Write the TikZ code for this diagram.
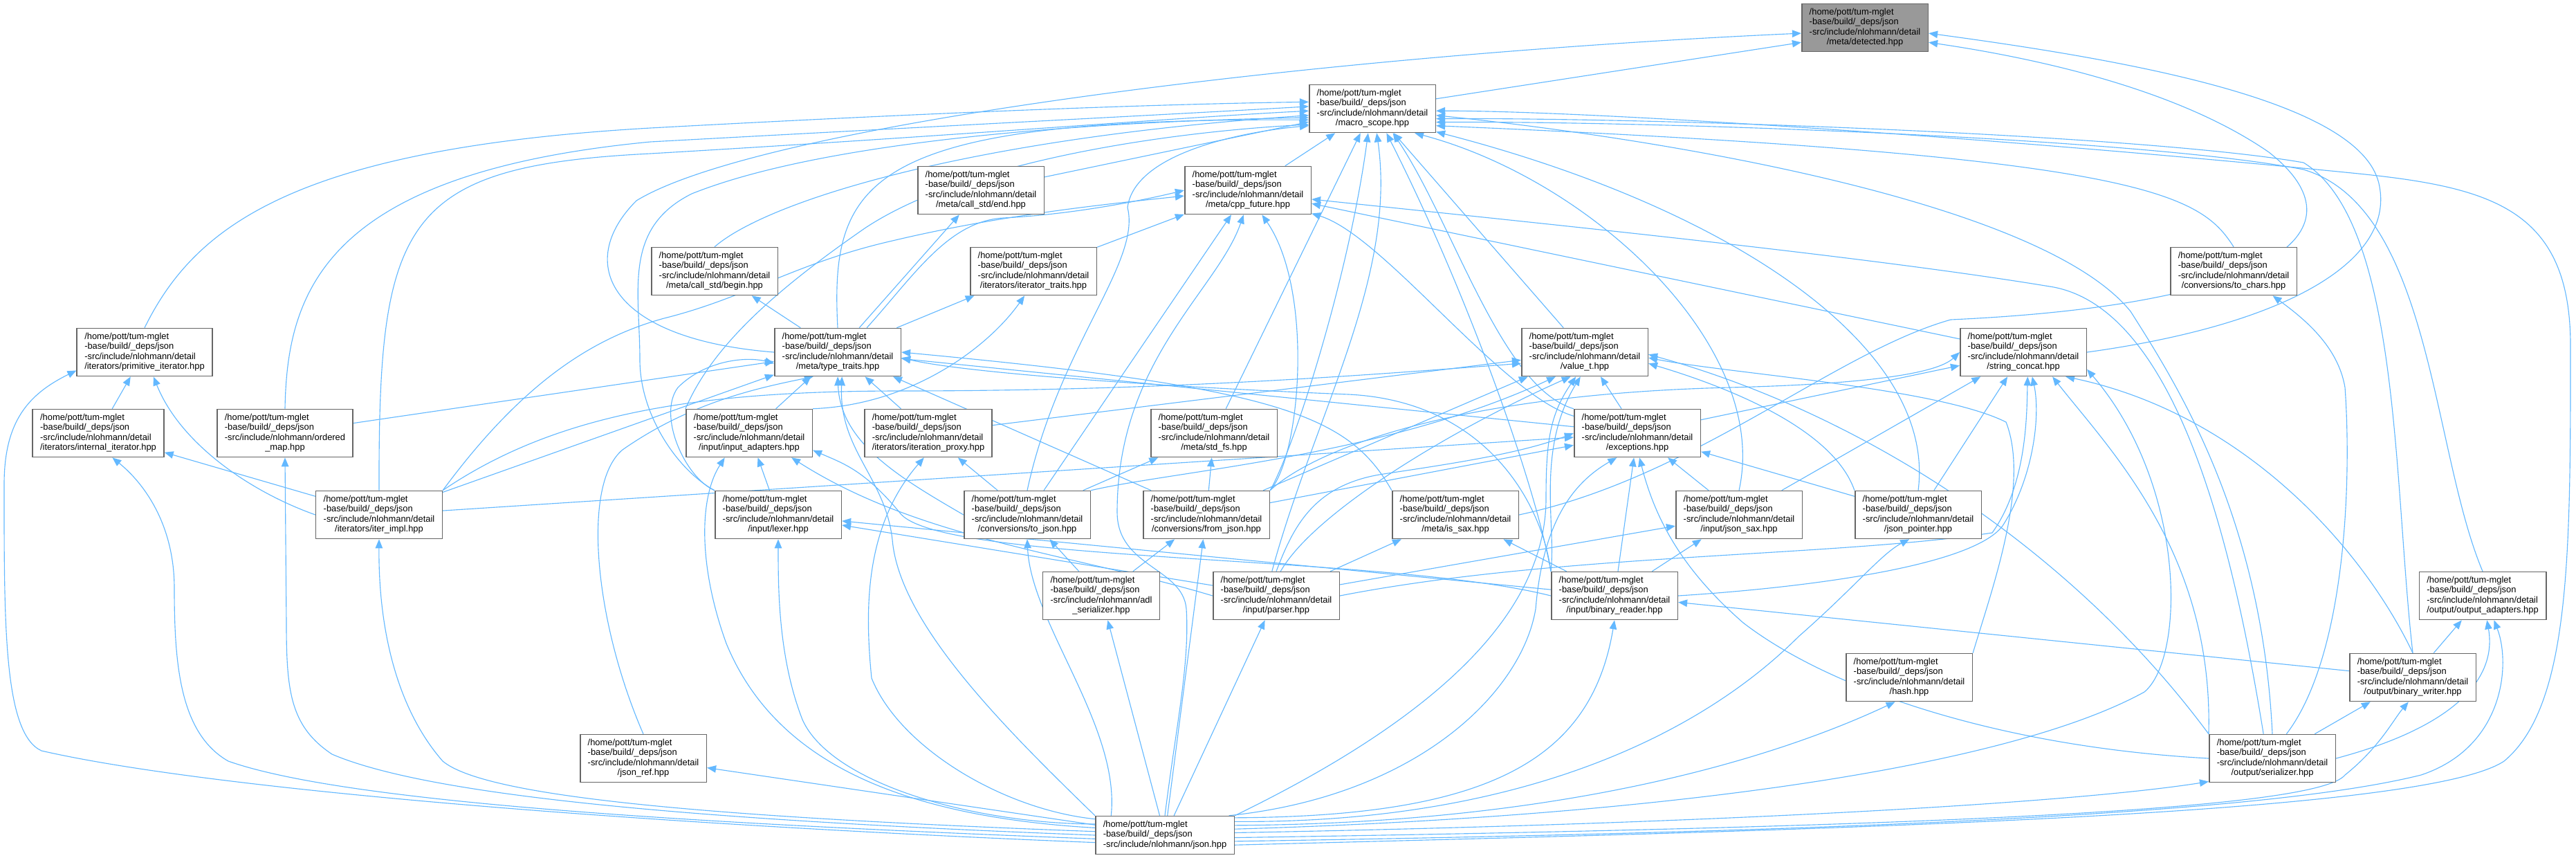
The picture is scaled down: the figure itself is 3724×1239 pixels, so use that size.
\documentclass[tikz,border=0pt]{standalone}
\usepackage{fontspec}
\setmainfont{Liberation Sans}
\usepackage{tikz}
\usetikzlibrary{arrows.meta}
\definecolor{edgeblue}{HTML}{63B8FF}
\definecolor{boxgray}{HTML}{666666}
\definecolor{curgray}{HTML}{999999}
\pgfdeclarelayer{bg}
\pgfsetlayers{bg,main}
\newcommand{\hpp}[2]{\begin{tabular}{@{}l@{}}/home/pott/tum-mglet\\-base/build/\_deps/json\\#1\\\multicolumn{1}{@{}c@{}}{#2}\end{tabular}}
\newcommand{\dhpp}[1]{\hpp{-src/include/nlohmann/detail}{#1}}

\begin{document}
\begin{tikzpicture}[x=0.1mm,y=-0.1mm,
  file/.style={draw=boxgray,fill=white,line width=0.45pt,inner xsep=1.1mm,inner ysep=0.3mm,
    minimum height=6.9mm,font=\fontsize{3.67}{4.15}\selectfont},
  cur/.style={file,fill=curgray},
  dep/.style={edgeblue,line width=0.32pt,-{Triangle[length=1.3mm,width=1.05mm]}}]
\useasboundingbox (0,0) rectangle (3724,1239);
\node[cur]  (det)      at (2696,40)   {\dhpp{/meta/detected.hpp}};
\node[file] (macro)    at (1984,157)  {\dhpp{/macro\_scope.hpp}};
\node[file] (cend)     at (1418,275)  {\dhpp{/meta/call\_std/end.hpp}};
\node[file] (cppf)     at (1804,275)  {\dhpp{/meta/cpp\_future.hpp}};
\node[file] (cbegin)   at (1033,392)  {\dhpp{/meta/call\_std/begin.hpp}};
\node[file] (ittr)     at (1494,392)  {\dhpp{/iterators/iterator\_traits.hpp}};
\node[file] (tochars)  at (3229,392)  {\dhpp{/conversions/to\_chars.hpp}};
\node[file] (primit)   at (209,509)   {\dhpp{/iterators/primitive\_iterator.hpp}};
\node[file] (ttraits)  at (1211,509)  {\dhpp{/meta/type\_traits.hpp}};
\node[file] (valuet)   at (2291,509)  {\dhpp{/value\_t.hpp}};
\node[file] (strcat)   at (2925,509)  {\dhpp{/string\_concat.hpp}};
\node[file] (intit)    at (142,626)   {\dhpp{/iterators/internal\_iterator.hpp}};
\node[file] (omap)     at (412,626)   {\hpp{-src/include/nlohmann/ordered}{\_map.hpp}};
\node[file] (inadp)    at (1083,626)  {\dhpp{/input/input\_adapters.hpp}};
\node[file] (itproxy)  at (1342,626)  {\dhpp{/iterators/iteration\_proxy.hpp}};
\node[file] (stdfs)    at (1755,626)  {\dhpp{/meta/std\_fs.hpp}};
\node[file] (excep)    at (2367,626)  {\dhpp{/exceptions.hpp}};
\node[file] (iterimpl) at (548,744)   {\dhpp{/iterators/iter\_impl.hpp}};
\node[file] (lexer)    at (1125,744)  {\dhpp{/input/lexer.hpp}};
\node[file] (tojson)   at (1485,744)  {\dhpp{/conversions/to\_json.hpp}};
\node[file] (fromjson) at (1744,744)  {\dhpp{/conversions/from\_json.hpp}};
\node[file] (issax)    at (2104,744)  {\dhpp{/meta/is\_sax.hpp}};
\node[file] (jsonsax)  at (2514,744)  {\dhpp{/input/json\_sax.hpp}};
\node[file] (jptr)     at (2773,744)  {\dhpp{/json\_pointer.hpp}};
\node[file] (adl)      at (1592,861)  {\hpp{-src/include/nlohmann/adl}{\_serializer.hpp}};
\node[file] (parser)   at (1845,861)  {\dhpp{/input/parser.hpp}};
\node[file] (breader)  at (2334,861)  {\dhpp{/input/binary\_reader.hpp}};
\node[file] (outadp)   at (3589,861)  {\dhpp{/output/output\_adapters.hpp}};
\node[file] (hash)     at (2760,979)  {\dhpp{/hash.hpp}};
\node[file] (bwriter)  at (3488,979)  {\dhpp{/output/binary\_writer.hpp}};
\node[file] (jref)     at (930,1096)  {\dhpp{/json\_ref.hpp}};
\node[file] (serial)   at (3285,1096) {\dhpp{/output/serializer.hpp}};
\node[file,minimum height=5.5mm] (json) at (1684,1207)
  {\begin{tabular}{@{}l@{}}/home/pott/tum-mglet\\-base/build/\_deps/json\\-src/include/nlohmann/json.hpp\end{tabular}};

\begin{pgfonlayer}{bg}
% detected.hpp
\draw[dep] (macro) -- (det.193);
\draw[dep] (ttraits.west) .. controls (880,490) and (830,380) .. (920,290) .. controls (1100,180) and (1900,80) .. (det.185);
\draw[dep] (strcat.east) .. controls (3300,470) and (3460,380) .. (3440,270) .. controls (3420,150) and (3100,90) .. (det.-5);
\draw[dep] (issax.east) .. controls (2450,690) and (2650,510) .. (2820,462) .. controls (3300,440) and (3420,330) .. (3280,220) .. controls (3150,130) and (2950,85) .. (det.-13);
% macro_scope.hpp
\draw[dep] (cppf) -- (macro);
\draw[dep] (cend) -- (macro);
\draw[dep] (stdfs) -- (macro);
\draw[dep] (valuet) -- (macro);
\draw[dep] (cbegin.north) .. controls (1110,290) and (1400,200) .. (macro.186);
\draw[dep] (ttraits.north) .. controls (1200,260) and (1250,170) .. (macro.190);
\draw[dep] (primit.north) .. controls (280,330) and (420,215) .. (940,185) .. controls (1400,160) and (1700,150) .. (macro.174);
\draw[dep] (omap.north) .. controls (415,420) and (470,250) .. (940,205) .. controls (1400,180) and (1700,165) .. (macro.178);
\draw[dep] (iterimpl.north) .. controls (547,320) and (580,240) .. (940,222) .. controls (1400,195) and (1700,170) .. (macro.182);
\draw[dep] (inadp.north west) .. controls (1030,500) and (1120,420) .. (1250,330) .. controls (1400,230) and (1700,190) .. (macro.194);
\draw[dep] (lexer.north west) .. controls (980,680) and (925,600) .. (925,520) .. controls (925,420) and (900,330) .. (1000,280) .. controls (1200,200) and (1600,175) .. (macro.188);
\draw[dep] (tojson.north) .. controls (1530,500) and (1650,380) .. (1630,300) .. controls (1640,220) and (1800,190) .. (macro.195);
\draw[dep] (fromjson.north east) .. controls (1870,650) and (1950,400) .. (macro.-100);
\draw[dep] (parser.100) .. controls (1900,600) and (2020,400) .. (macro.-80);
\draw[dep] (breader.north west) .. controls (2220,700) and (2120,420) .. (macro.-60);
\draw[dep] (excep.north west) .. controls (2170,560) and (2100,320) .. (macro.-50);
\draw[dep] (jsonsax.north) .. controls (2560,500) and (2300,260) .. (macro.-30);
\draw[dep] (jptr.north) .. controls (2800,500) and (2500,300) .. (macro.-20);
\draw[dep] (tochars.north) .. controls (3180,280) and (3100,225) .. (macro.-15);
\draw[dep] (outadp.north) .. controls (3515,650) and (3515,300) .. (3330,245) .. controls (3100,200) and (2400,175) .. (macro.-12);
\draw[dep] (bwriter.north) .. controls (3460,700) and (3470,320) .. (3330,235) .. controls (3100,195) and (2400,170) .. (macro.-9);
\draw[dep] (serial.north) .. controls (3270,750) and (3150,560) .. (3080,450) .. controls (2950,290) and (2400,200) .. (macro.-6);
\draw[dep] (json.-8) .. controls (2600,1200) and (3500,1180) .. (3620,1100) .. controls (3716,1020) and (3716,800) .. (3716,500) .. controls (3716,300) and (3600,270) .. (3400,250) .. controls (2900,200) and (2300,160) .. (macro.-2);
% cpp_future.hpp
\draw[dep] (ittr) -- (cppf);
\draw[dep] (tojson) -- (cppf);
\draw[dep] (strcat) -- (cppf);
\draw[dep] (ttraits.40) .. controls (1320,400) and (1370,320) .. (1450,315) .. controls (1550,310) and (1650,290) .. (cppf.west);
\draw[dep] (iterimpl.north east) .. controls (750,560) and (850,490) .. (960,460) .. controls (1080,430) and (1150,380) .. (1290,348) .. controls (1450,310) and (1600,295) .. (cppf.185);
\draw[dep] (excep.165) .. controls (2170,570) and (2000,340) .. (cppf.-20);
\draw[dep] (fromjson.north east) .. controls (1880,660) and (1900,420) .. (cppf.-60);
\draw[dep] (serial.110) .. controls (3230,800) and (3150,450) .. (2969,415) .. controls (2700,370) and (2200,320) .. (cppf.-8);
\draw[dep] (json.north) .. controls (1700,1050) and (1720,960) .. (1715,880) .. controls (1710,820) and (1615,820) .. (1615,740) .. controls (1615,520) and (1760,420) .. (cppf.-100);
% call_std, iterator_traits
\draw[dep] (ttraits) -- (cbegin);
\draw[dep] (ttraits) -- (cend);
\draw[dep] (ttraits) -- (ittr);
\draw[dep] (inadp.north east) .. controls (1320,585) and (1430,500) .. (ittr.-110);
% primitive_iterator.hpp, internal_iterator.hpp
\draw[dep] (intit) -- (primit);
\draw[dep] (iterimpl.west) .. controls (360,710) and (260,640) .. (primit.-70);
\draw[dep] (json.186) .. controls (900,1190) and (300,1140) .. (60,1085) .. controls (5,1060) and (6,900) .. (6,700) .. controls (6,610) and (40,570) .. (primit.195);
\draw[dep] (iterimpl) -- (intit);
\draw[dep] (json.183) .. controls (1000,1190) and (500,1160) .. (330,1100) .. controls (260,1060) and (252,960) .. (252,850) .. controls (252,760) and (210,700) .. (intit.-60);
\draw[dep] (json.180) .. controls (1000,1185) and (620,1150) .. (480,1090) .. controls (420,1050) and (414,1000) .. (414,900) -- (omap.south);
\draw[dep] (json.177) .. controls (1000,1180) and (700,1150) .. (640,1100) .. controls (570,1020) and (547,900) .. (iterimpl.south);
% type_traits.hpp
\draw[dep] (excep) -- (ttraits);
\draw[dep] (iterimpl) -- (ttraits);
\draw[dep] (itproxy) -- (ttraits);
\draw[dep] (inadp) -- (ttraits);
\draw[dep] (omap) -- (ttraits);
\draw[dep] (fromjson) -- (ttraits);
\draw[dep] (lexer.north west) .. controls (990,690) and (950,600) .. (980,560) .. controls (1020,520) and (1080,515) .. (ttraits.190);
\draw[dep] (issax.north west) .. controls (1950,600) and (1850,560) .. (ttraits.east);
\draw[dep] (breader.north west) .. controls (2230,730) and (2150,580) .. (1950,570) .. controls (1700,560) and (1400,540) .. (ttraits.-5);
\draw[dep] (tojson.west) .. controls (1300,690) and (1215,640) .. (ttraits.south);
\draw[dep] (jref.north) .. controls (860,900) and (840,700) .. (900,650) .. controls (1000,580) and (1100,560) .. (ttraits.-135);
\draw[dep] (json.north west) .. controls (1450,1050) and (1300,900) .. (1290,780) .. controls (1280,690) and (1212,650) .. (ttraits.-80);
% value_t.hpp
\draw[dep] (excep) -- (valuet);
\draw[dep] (itproxy) -- (valuet);
\draw[dep] (fromjson) -- (valuet);
\draw[dep] (iterimpl.north east) .. controls (800,600) and (1000,565) .. (1300,565) .. controls (1700,565) and (2000,540) .. (valuet.190);
\draw[dep] (parser.80) .. controls (1900,740) and (2100,620) .. (valuet.-120);
\draw[dep] (breader.north west) .. controls (2250,760) and (2220,650) .. (valuet.-100);
\draw[dep] (jptr.north west) .. controls (2650,620) and (2500,560) .. (valuet.-10);
\draw[dep] (hash.north east) .. controls (2880,850) and (2935,700) .. (2900,610) .. controls (2800,560) and (2500,540) .. (valuet.-5);
\draw[dep] (tojson.north east) .. controls (1700,680) and (2000,660) .. (valuet.-140);
\draw[dep] (json.north east) .. controls (2050,1050) and (2235,900) .. (2235,720) .. controls (2235,640) and (2240,600) .. (valuet.-110);
% string_concat.hpp
\draw[dep] (excep) -- (strcat);
\draw[dep] (jsonsax) -- (strcat);
\draw[dep] (jptr) -- (strcat);
\draw[dep] (parser.east) .. controls (2250,800) and (2650,805) .. (2880,770) .. controls (2930,700) and (2930,600) .. (strcat.-80);
\draw[dep] (breader.east) .. controls (2600,850) and (2850,820) .. (2895,760) .. controls (2940,690) and (2950,600) .. (strcat.-70);
\draw[dep] (fromjson.north east) .. controls (1900,650) and (2100,570) .. (2500,560) .. controls (2700,555) and (2800,540) .. (strcat.west);
\draw[dep] (bwriter.north) .. controls (3420,800) and (3250,600) .. (strcat.-30);
\draw[dep] (serial.north west) .. controls (3200,800) and (3050,650) .. (strcat.-40);
\draw[dep] (json.5) .. controls (2400,1180) and (2900,1110) .. (3100,1000) .. controls (3160,950) and (3160,700) .. (strcat.-15);
% exceptions.hpp
\draw[dep] (iterimpl) -- (excep);
\draw[dep] (breader) -- (excep);
\draw[dep] (jsonsax) -- (excep);
\draw[dep] (jptr) -- (excep);
\draw[dep] (fromjson) -- (excep);
\draw[dep] (parser.north) .. controls (1870,760) and (1900,700) .. (2000,685) .. controls (2100,670) and (2200,655) .. (excep.west);
\draw[dep] (serial.west) .. controls (2900,1080) and (2650,1000) .. (2520,900) .. controls (2440,830) and (2395,760) .. (excep.-85);
\draw[dep] (json.17) .. controls (2050,1150) and (2200,1000) .. (2220,880) .. controls (2230,760) and (2270,700) .. (excep.-130);
% input_adapters.hpp, lexer.hpp
\draw[dep] (lexer) -- (inadp);
\draw[dep] (parser.west) .. controls (1550,800) and (1330,780) .. (inadp.-30);
\draw[dep] (breader.west) .. controls (2000,800) and (1350,815) .. (1300,740) .. controls (1250,680) and (1220,670) .. (inadp.-15);
\draw[dep] (json.174) .. controls (1300,1180) and (1120,1100) .. (1050,930) .. controls (1010,820) and (1010,720) .. (inadp.-135);
\draw[dep] (parser) -- (lexer);
\draw[dep] (breader) -- (lexer);
\draw[dep] (json.171) .. controls (1400,1190) and (1200,1130) .. (1160,1040) .. controls (1125,950) and (1125,850) .. (lexer.south);
% iteration_proxy.hpp, std_fs.hpp
\draw[dep] (tojson) -- (itproxy);
\draw[dep] (json.167) .. controls (1450,1170) and (1300,1080) .. (1260,980) .. controls (1250,880) and (1250,760) .. (itproxy.-100);
\draw[dep] (fromjson) -- (stdfs);
\draw[dep] (tojson) -- (stdfs);
% conversions, adl_serializer
\draw[dep] (adl) -- (tojson);
\draw[dep] (adl) -- (fromjson);
\draw[dep] (json.160) .. controls (1620,1050) and (1490,900) .. (tojson.south);
\draw[dep] (json) -- (fromjson);
\draw[dep] (json) -- (adl);
\draw[dep] (json) -- (parser);
% is_sax.hpp, json_sax.hpp, json_pointer.hpp
\draw[dep] (parser) -- (issax);
\draw[dep] (breader) -- (issax);
\draw[dep] (parser) -- (jsonsax);
\draw[dep] (breader) -- (jsonsax);
\draw[dep] (json.11) .. controls (2200,1190) and (2460,1060) .. (2600,920) .. controls (2680,850) and (2720,800) .. (jptr.-110);
% binary_reader.hpp, hash.hpp
\draw[dep] (bwriter) -- (breader);
\draw[dep] (json.14) .. controls (2150,1180) and (2300,1100) .. (breader.south);
\draw[dep] (json.8) .. controls (2300,1190) and (2600,1080) .. (hash.-120);
% output
\draw[dep] (bwriter) -- (outadp);
\draw[dep] (serial.east) .. controls (3550,1050) and (3610,980) .. (outadp.-80);
\draw[dep] (json.-5) .. controls (2800,1200) and (3300,1170) .. (3500,1120) .. controls (3620,1080) and (3630,960) .. (outadp.-65);
\draw[dep] (serial) -- (bwriter);
\draw[dep] (json.-2) .. controls (2800,1195) and (3350,1170) .. (3390,1120) .. controls (3440,1080) and (3460,1040) .. (bwriter.-100);
\draw[dep] (json.2) .. controls (2500,1190) and (3000,1160) .. (serial.-160);
\draw[dep] (serial.60) .. controls (3390,950) and (3400,700) .. (3390,560) .. controls (3380,500) and (3330,460) .. (tochars.-32);
\draw[dep] (serial.north west) .. controls (3000,800) and (2700,600) .. (valuet.-2);
% json_ref.hpp
\draw[dep] (json) -- (jref);
\end{pgfonlayer}
\end{tikzpicture}
\end{document}
